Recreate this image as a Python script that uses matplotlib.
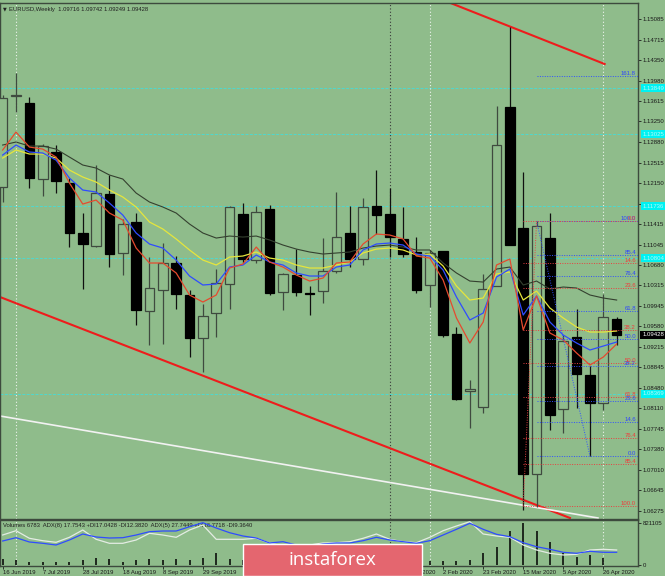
import matplotlib
matplotlib.use('Agg')
import matplotlib.pyplot as plt
from matplotlib.patches import Rectangle

# ---------------- data ----------------
opens = [1.12076, 1.13706, 1.13581, 1.12219, 1.12703, 1.12148, 1.11252, 1.11019, 1.11951, 1.10894,
         1.11449, 1.09855, 1.10231, 1.10715, 1.10142, 1.09372, 1.09819, 1.10339, 1.11593, 1.10769,
         1.11682, 1.10196, 1.10500, 1.10178, 1.10213, 1.10572, 1.11252, 1.10787, 1.11736, 1.11593,
         1.11145, 1.10912, 1.10321, 1.10930, 1.09443, 1.08422, 1.08136, 1.10303, 1.13509, 1.11342,
         1.06936, 1.11163, 1.08100, 1.09390, 1.08709, 1.08208, 1.09716]
highs = [1.13724, 1.14118, 1.13688, 1.12846, 1.12828, 1.12237, 1.11610, 1.12470, 1.12291, 1.11503,
         1.11610, 1.10822, 1.11073, 1.10840, 1.10231, 1.09981, 1.10607, 1.11736, 1.11790, 1.11736,
         1.11754, 1.10536, 1.10966, 1.10303, 1.11163, 1.11987, 1.11736, 1.11879, 1.12381, 1.12058,
         1.11718, 1.11181, 1.10948, 1.10930, 1.09569, 1.08619, 1.10518, 1.13527, 1.14942, 1.12345,
         1.11467, 1.11610, 1.09425, 1.09891, 1.08870, 1.10160, 1.09742]
lows = [1.11807, 1.13419, 1.12058, 1.11915, 1.11969, 1.11002, 1.10249, 1.11002, 1.10643, 1.10500,
        1.09605, 1.09246, 1.09264, 1.09891, 1.09031, 1.08763, 1.09390, 1.09891, 1.10715, 1.10715,
        1.10142, 1.09873, 1.10124, 1.09784, 1.09999, 1.10536, 1.10643, 1.10679, 1.11234, 1.10822,
        1.10822, 1.10178, 1.09927, 1.09390, 1.08261, 1.07760, 1.08028, 1.10303, 1.11037, 1.06291,
        1.06345, 1.07724, 1.07670, 1.08118, 1.07258, 1.08082, 1.09249]
closes = [1.13670, 1.13724, 1.12237, 1.12810, 1.12184, 1.11252, 1.11055, 1.11969, 1.10876, 1.11413,
          1.09873, 1.10267, 1.10715, 1.10160, 1.09372, 1.09766, 1.10357, 1.11718, 1.10787, 1.11628,
          1.10178, 1.10518, 1.10196, 1.10160, 1.10572, 1.11181, 1.10787, 1.11718, 1.11575, 1.11181,
          1.10876, 1.10231, 1.10894, 1.09425, 1.08279, 1.08458, 1.10249, 1.12828, 1.11037, 1.06936,
          1.11378, 1.07993, 1.09318, 1.08727, 1.08208, 1.09748, 1.09428]

ma_gray = [1.12828, 1.12882, 1.12810, 1.12810, 1.12756, 1.12613, 1.12470, 1.12416, 1.12291, 1.12219,
           1.11968, 1.11807, 1.11718, 1.11610, 1.11413, 1.11252, 1.11162, 1.11198, 1.11180, 1.11198,
           1.11127, 1.11037, 1.10965, 1.10912, 1.10876, 1.10894, 1.10912, 1.10983, 1.11019, 1.11037,
           1.11001, 1.10948, 1.10948, 1.10715, 1.10536, 1.10392, 1.10374, 1.10607, 1.10643, 1.10321,
           1.10392, 1.10249, 1.10285, 1.10267, 1.10142, 1.10088, 1.10052]
ma_yellow = [1.12595, 1.12739, 1.12667, 1.12667, 1.12595, 1.12380, 1.12255, 1.12165, 1.12022, 1.11897,
             1.11718, 1.11449, 1.11324, 1.11145, 1.10948, 1.10768, 1.10679, 1.10822, 1.10840, 1.10912,
             1.10804, 1.10768, 1.10679, 1.10625, 1.10625, 1.10679, 1.10733, 1.10894, 1.10965, 1.10983,
             1.10948, 1.10858, 1.10876, 1.10661, 1.10303, 1.10052, 1.10088, 1.10518, 1.10554, 1.10052,
             1.10213, 1.09909, 1.09730, 1.09568, 1.09479, 1.09479, 1.09497]
ma_blue = [1.12649, 1.12828, 1.12703, 1.12685, 1.12559, 1.12237, 1.12022, 1.11986, 1.11789, 1.11574,
           1.11252, 1.11055, 1.10983, 1.10768, 1.10482, 1.10321, 1.10339, 1.10643, 1.10679, 1.10858,
           1.10733, 1.10679, 1.10536, 1.10482, 1.10482, 1.10643, 1.10679, 1.10948, 1.11055, 1.11073,
           1.11037, 1.10876, 1.10840, 1.10589, 1.10106, 1.09694, 1.09819, 1.10464, 1.10607, 1.09783,
           1.10124, 1.09658, 1.09425, 1.09282, 1.09157, 1.09228, 1.09300]
ma_red = [1.12739, 1.13061, 1.12792, 1.12756, 1.12613, 1.12148, 1.11771, 1.11843, 1.11610, 1.11485,
          1.10983, 1.10715, 1.10715, 1.10536, 1.10142, 1.10016, 1.10142, 1.10625, 1.10697, 1.11001,
          1.10733, 1.10643, 1.10500, 1.10392, 1.10446, 1.10715, 1.10733, 1.11055, 1.11234, 1.11216,
          1.11145, 1.10840, 1.10804, 1.10410, 1.09730, 1.09282, 1.09658, 1.10679, 1.10787, 1.09515,
          1.10124, 1.09461, 1.09336, 1.09103, 1.08888, 1.09031, 1.09264]

volumes = [110600, 97000, 64000, 64000, 64000, 64000, 97000, 130000, 110600, 64000,
           97000, 110600, 97000, 110600, 97000, 130000, 227000, 110600, 97000, 90000,
           85000, 95000, 80000, 70000, 100000, 90000, 75000, 60000, 95000, 85000,
           80000, 90000, 83500, 83500, 83500, 97000, 227000, 343600, 665800, 821105,
           660000, 440600, 238800, 161100, 194100, 141700, 6783]
adx_blue = [24, 27.3, 23, 21.7, 20, 25, 31, 28, 27, 27.3,
            30, 33.3, 34, 34, 38.3, 42.3, 37, 32.3, 29, 27,
            22, 23.3, 20, 19, 21, 22, 22, 24.3, 27.7, 25,
            23.3, 21.7, 24.3, 30, 35.7, 41.7, 35.7, 30.7, 28.3, 22.3,
            18.3, 15.7, 12.7, 11.7, 13.7, 12.7, 12.7]
adx_white = [30, 34.3, 26.7, 24.3, 22.7, 27.7, 35, 25.7, 21.7, 21.7,
             25, 31.7, 30, 27.7, 35, 40, 25.7, 25.7, 25.7, 26.7,
             22, 19, 19, 20, 22, 22.3, 23.3, 26.7, 31, 25.7,
             23.3, 22.3, 27.7, 34.3, 39, 43.3, 31, 29, 27.7, 20,
             15, 11.7, 10, 10.7, 15, 15.7, 15]

date_bars = [0, 3, 6, 9, 12, 15, 18, 21, 24, 27, 30, 33, 36, 39, 42, 45]
date_labels = ['16 Jun 2019', '7 Jul 2019', '28 Jul 2019', '18 Aug 2019', '8 Sep 2019',
               '29 Sep 2019', '20 Oct 2019', '10 Nov 2019', '1 Dec 2019', '22 Dec 2019',
               '12 Jan 2020', '2 Feb 2020', '23 Feb 2020', '15 Mar 2020', '5 Apr 2020',
               '26 Apr 2020']

price_ticks = [1.15085, 1.14715, 1.14350, 1.13980, 1.13615, 1.13250, 1.12880, 1.12515, 1.12150,
               1.11780, 1.11415, 1.11045, 1.10680, 1.10315, 1.09945, 1.09580, 1.09215, 1.08845,
               1.08480, 1.08110, 1.07745, 1.07380, 1.07010, 1.06645, 1.06275]

hlines_cyan = [1.13849, 1.13025, 1.11736, 1.10804, 1.08369]
white_vlines = [1, 32, 45]
year_sep = [29]

fib_ratios_red = [0.0, 14.6, 23.6, 38.2, 50.0, 61.8, 76.4, 85.4, 100.0]
fib_ratios_blue = [0.0, 14.6, 23.6, 38.2, 50.0, 61.8, 76.4, 85.4, 100.0, 161.8]
red_fib_bars = [39, 40]
red_fib_prices = [1.06369, 1.11467]
blue_fib_bars = [40, 44]
blue_fib_prices = [1.11467, 1.07258]

red_up_line_x = [33.5, 45.1]
red_up_line_y = [1.15377, 1.14279]
red_low_line_x = [-0.2, 42.5]
red_low_line_y = [1.10106, 1.06148]
white_line_x = [-0.2, 44.6]
white_line_y = [1.07975, 1.06148]

# ---------------- figure ----------------
BG = '#8fbc8b'
FONT = 'Liberation Sans'
W, H = 665, 576
fig = plt.figure(figsize=(W / 100, H / 100), dpi=100)
fig.patch.set_facecolor(BG)


def rect(x0, y0, x1, y1):
    return [x0 / W, 1 - y1 / H, (x1 - x0) / W, (y1 - y0) / H]


ax = fig.add_axes(rect(0, 3, 638, 519))
vax = fig.add_axes(rect(0, 520, 638, 566))
vax2 = vax.twinx()
for a in (ax, vax):
    a.set_facecolor(BG)
    for s in a.spines.values():
        s.set_color('#3d4a3d')
        s.set_linewidth(1.0)

n = len(closes)
idx = list(range(n))
XMIN, XMAX = -0.2, 47.6
ax.set_xlim(XMIN, XMAX)
ax.set_ylim(1.06130, 1.15372)
vax.set_xlim(XMIN, XMAX)

# horizontal cyan lines
for p in hlines_cyan:
    ax.axhline(p, color='#4fd8cf', lw=0.7, ls=(0, (3, 1.5)), zorder=1)

# vertical lines
for b in white_vlines:
    for a in (ax, vax):
        a.axvline(b, color='#eef4ee', lw=0.8, ls=(0, (1, 2)), zorder=1)
for b in year_sep:
    for a in (ax, vax):
        a.axvline(b, color='#3a3a3a', lw=0.8, ls=(0, (1, 2)), zorder=1)

# trend lines
ax.plot(red_up_line_x, red_up_line_y, color='#ee1c1c', lw=1.5, zorder=2)
ax.plot(red_low_line_x, red_low_line_y, color='#ee1c1c', lw=1.5, zorder=2)
ax.plot(white_line_x, white_line_y, color='#f2f2f2', lw=1.2, zorder=2)

# candles
bull = [i for i in idx if closes[i] >= opens[i]]
bear = [i for i in idx if closes[i] < opens[i]]
ax.vlines(bull, [lows[i] for i in bull], [highs[i] for i in bull],
          color='#3f4a3f', lw=0.9, zorder=3)
ax.vlines(bear, [lows[i] for i in bear], [highs[i] for i in bear],
          color='#101010', lw=0.9, zorder=3)
ax.bar(bull, [closes[i] - opens[i] for i in bull], bottom=[opens[i] for i in bull],
       width=0.72, facecolor=BG, edgecolor='#3f4a3f', lw=0.9, zorder=4)
ax.bar(bear, [opens[i] - closes[i] for i in bear], bottom=[closes[i] for i in bear],
       width=0.72, facecolor='black', edgecolor='black', lw=0.9, zorder=4)

# moving averages
ax.plot(idx, ma_gray, color='#34402f', lw=0.8, zorder=5)
ax.plot(idx, ma_yellow, color='#e6e63c', lw=0.9, zorder=5)
ax.plot(idx, ma_blue, color='#2f4cff', lw=0.9, zorder=5)
ax.plot(idx, ma_red, color='#e64a2e', lw=0.9, zorder=5)

# fibonacci
LX = 47.45
bl, bh = blue_fib_prices[1], blue_fib_prices[0]
for r in fib_ratios_blue:
    p = bl + (bh - bl) * r / 100.0
    ax.plot([blue_fib_bars[0], XMAX], [p, p], color='#3050ff', lw=0.7, ls=(0, (1, 1.5)), zorder=6)
    ax.text(LX, p, f'{r:.1f}', color='#2f45ff', fontsize=4.3, family=FONT, ha='right', va='bottom', zorder=7)
ax.plot(blue_fib_bars, blue_fib_prices, color='#3050ff', lw=0.7, ls=(0, (1, 1.5)), zorder=6)
rl, rh = red_fib_prices
for r in fib_ratios_red:
    p = rh - (rh - rl) * r / 100.0
    ax.plot([red_fib_bars[0], XMAX], [p, p], color='#e84040', lw=0.7, ls=(0, (1, 1.5)), zorder=6)
    ax.text(LX, p, f'{r:.1f}', color='#f03c3c', fontsize=4.3, family=FONT, ha='right', va='bottom', zorder=7)
ax.plot(red_fib_bars, red_fib_prices, color='#e84040', lw=0.7, ls=(0, (1, 1.5)), zorder=6)

# price axis
ax.yaxis.tick_right()
ax.set_yticks(price_ticks)
ax.set_yticklabels([f'{t:.5f}' for t in price_ticks])
ax.tick_params(axis='y', length=2, width=0.6, pad=1.5, labelsize=4.3, colors='#1a1a1a')
for lab in ax.get_yticklabels():
    lab.set_family(FONT)
ax.set_xticks([])

for p in hlines_cyan:
    ax.annotate(f'{p:.5f}', xy=(1.0, p), xycoords=('axes fraction', 'data'),
                xytext=(3, 0), textcoords='offset points', fontsize=4.3, family=FONT,
                color='#b8f8f8', va='center', ha='left', annotation_clip=False, zorder=10,
                bbox=dict(boxstyle='square,pad=0.25', fc='#00f2f2', ec='none'))
ax.annotate(f'{closes[-1]:.5f}', xy=(1.0, closes[-1]), xycoords=('axes fraction', 'data'),
            xytext=(3, 0), textcoords='offset points', fontsize=4.3, family=FONT,
            color='white', va='center', ha='left', annotation_clip=False, zorder=10,
            bbox=dict(boxstyle='square,pad=0.3', fc='black', ec='none'))

# header
fig.text(3 / W, 1 - 9 / H, '\u25bc', fontsize=3.5, color='#202020', va='center')
fig.text(9 / W, 1 - 9 / H,
         f'EURUSD,Weekly  {opens[-1]:.5f} {highs[-1]:.5f} {lows[-1]:.5f} {closes[-1]:.5f}',
         fontsize=4.2, family=FONT, color='#202020', va='center')

# volume panel
vax.vlines(idx, 0, volumes, color='black', lw=1.1, zorder=3)
vax.set_ylim(-19411, 873515)
vax.set_yticks([0, 821105])
vax.set_yticklabels(['0', '821105'])
vax.yaxis.tick_right()
vax.yaxis.set_label_position('right')
vax.tick_params(axis='y', which='both', left=False, labelleft=False, right=True, labelright=True,
                length=2, width=0.6, pad=1.5, labelsize=4.3, colors='#1a1a1a')
vax.set_xticks(date_bars)
vax.set_xticklabels(date_labels)
vax.tick_params(axis='x', length=2, width=0.6, pad=1.2, labelsize=4.2, colors='#1a1a1a')
for lab in vax.get_xticklabels() + vax.get_yticklabels():
    lab.set_family(FONT)
for lab in vax.get_xticklabels():
    lab.set_ha('left')

vax2.set_ylim(-1, 45)
vax2.plot(idx, adx_white, color='#e4ece4', lw=0.9, zorder=4)
vax2.plot(idx, adx_blue, color='#2f4cff', lw=0.9, zorder=5)
vax2.set_yticks([])
vax2.tick_params(axis='y', right=False, labelright=False, left=False, labelleft=False)
for s in vax2.spines.values():
    s.set_visible(False)

vax.text(0.005, 0.93, 'Volumes 6783  ADX(8) 17.7543 +DI17.0428 -DI12.3820  ADX(5) 27.7449 +DI16.7718 -DI9.3640',
         transform=vax.transAxes, fontsize=4.2, family=FONT, color='#202020', va='top', ha='left', zorder=6)

# watermark logo
logo = Rectangle((243 / W, 0), (422 - 243) / W, (576 - 544) / H, transform=fig.transFigure,
                 facecolor='#e4666f', edgecolor='white', lw=1.0, zorder=20)
fig.patches.append(logo)
fig.text(332.5 / W, 1 - 565 / H, 'instaforex', fontsize=13.5, family='Open Sans',
         color='white', ha='center', va='baseline', zorder=21)

fig.savefig('out.png', dpi=100, facecolor=BG)
